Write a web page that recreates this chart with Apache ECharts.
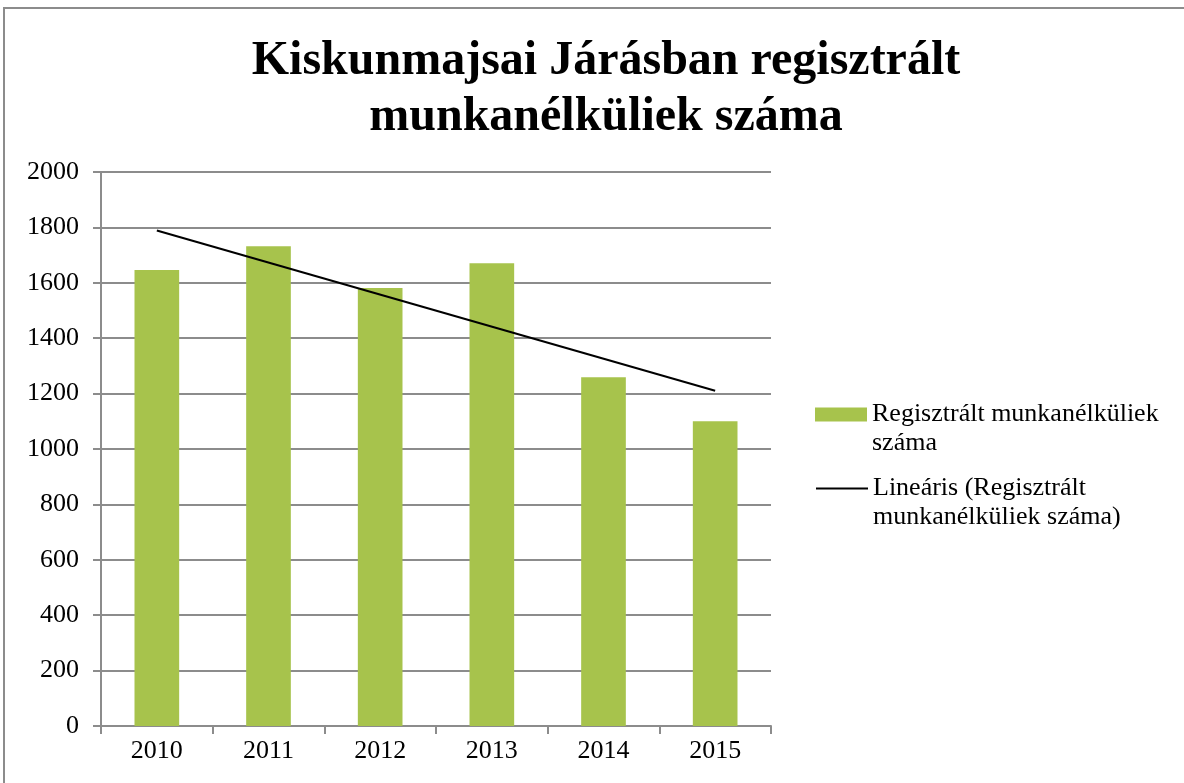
<!DOCTYPE html>
<html>
<head>
<meta charset="utf-8">
<script src="https://cdn.jsdelivr.net/npm/echarts@6/dist/echarts.min.js"></script>
<style>
  html, body { margin: 0; padding: 0; background: #fff; }
  #frame { position: absolute; left: 3px; top: 7px; width: 1200px; height: 800px; border: 2px solid #8c8c8c; }
  #canvas { position: absolute; left: 0; top: 0; width: 1184px; height: 783px; }
</style>
</head>
<body>
<div id="frame"></div>
<div id="canvas"></div>
<script>
    // adatok
    var years = ['2010', '2011', '2012', '2013', '2014', '2015']
    var munkanelkuliek = [1646, 1732, 1581, 1671, 1259, 1100]
    // trendvonal végpontjai (leolvasva)
    var trendYears = ['2010', '2015']
    var trendValues = [1789, 1210]
    var yTicks = [0, 200, 400, 600, 800, 1000, 1200, 1400, 1600, 1800, 2000]

    var serif = '"Liberation Serif", "DejaVu Serif", serif'
    var barName = 'Regisztrált munkanélküliek száma'
    var lineName = 'Lineáris (Regisztrált munkanélküliek száma)'
    // üres első sor, hogy a jel az első szövegsorral legyen egy vonalban
    var legendText = {}
    legendText[barName] = '\nRegisztrált munkanélküliek\nszáma'
    legendText[lineName] = '\nLineáris (Regisztrált\nmunkanélküliek száma)'

    var legendBase = {
        orient: 'vertical',
        left: 815,
        padding: 0,
        itemWidth: 52,
        itemHeight: 14,
        itemGap: 0,
        formatter: function (name) { return legendText[name] },
        textStyle: {
            fontFamily: serif,
            fontSize: 26,
            color: '#000',
            lineHeight: 29
        }
    }

    var chart = echarts.init(document.getElementById('canvas'))
    chart.setOption({
        animation: false,
        title: {
            text: 'Kiskunmajsai Járásban regisztrált\nmunkanélküliek száma',
            left: 601,
            textAlign: 'center',
            top: 29,
            textStyle: {
                fontFamily: serif,
                fontSize: 48,
                fontWeight: 'bold',
                color: '#000',
                lineHeight: 56
            }
        },
        legend: [
            Object.assign({}, legendBase, {
                top: 371,
                data: [{ name: barName, icon: 'rect' }]
            }),
            Object.assign({}, legendBase, {
                top: 445,
                itemStyle: { opacity: 0 },
                lineStyle: { color: '#000', width: 2 },
                data: [{ name: lineName }]
            })
        ],
        grid: {
            left: 101,
            right: 413,
            top: 172,
            bottom: 57
        },
        xAxis: {
            type: 'category',
            data: years,
            axisLine: { lineStyle: { color: '#8c8c8c', width: 2 } },
            axisTick: { show: true, length: 8, lineStyle: { color: '#8c8c8c', width: 2 } },
            axisLabel: { fontFamily: serif, fontSize: 26, color: '#000', margin: 12 },
            splitLine: { show: false }
        },
        yAxis: {
            type: 'value',
            min: yTicks[0],
            max: yTicks[yTicks.length - 1],
            interval: 200,
            axisLine: { show: true, lineStyle: { color: '#8c8c8c', width: 2 } },
            axisTick: { show: true, length: 8, lineStyle: { color: '#8c8c8c', width: 2 } },
            axisLabel: {
                fontFamily: serif, fontSize: 26, color: '#000', margin: 22,
                formatter: function (v) { return String(v) }
            },
            splitLine: { show: true, lineStyle: { color: '#8c8c8c', width: 2 } }
        },
        series: [
            {
                name: barName,
                type: 'bar',
                data: munkanelkuliek,
                barWidth: '40%',
                itemStyle: { color: '#a7c34c' }
            },
            {
                name: lineName,
                type: 'line',
                data: trendYears.map(function (y, i) { return [y, trendValues[i]] }),
                symbol: 'none',
                lineStyle: { color: '#000', width: 2 },
                itemStyle: { color: '#000' },
                z: 3
            }
        ]
    })
</script>
</body>
</html>
